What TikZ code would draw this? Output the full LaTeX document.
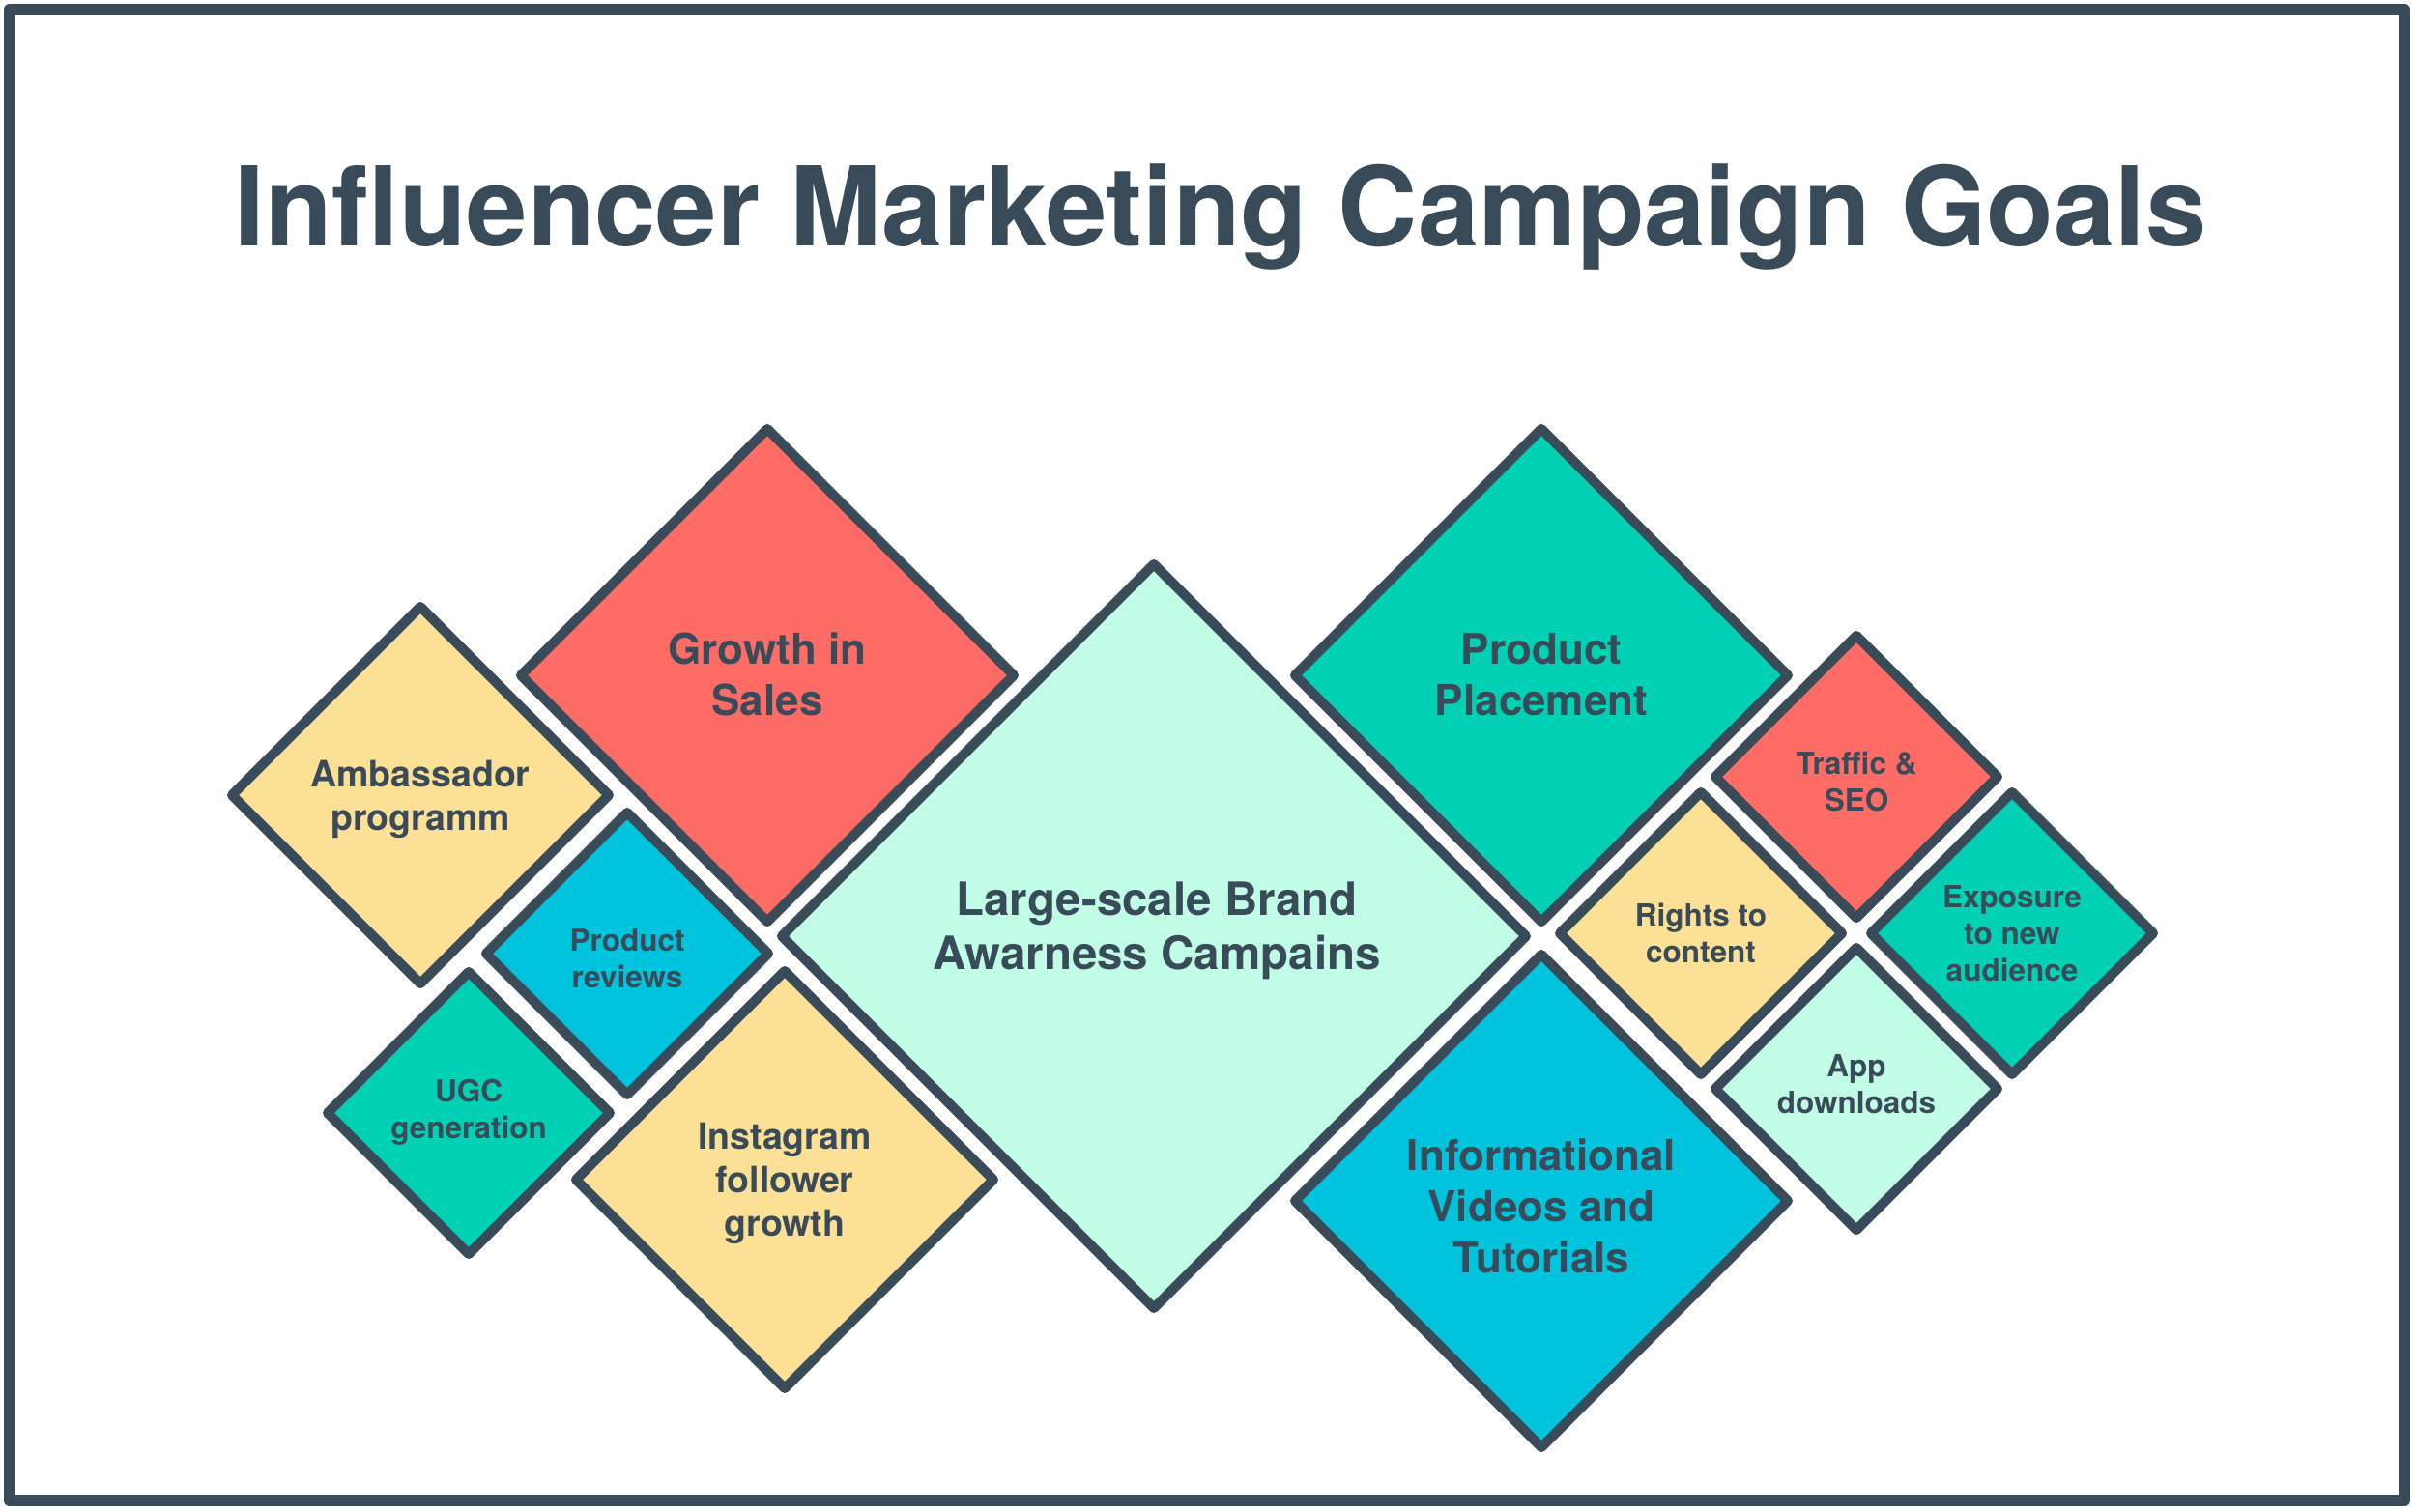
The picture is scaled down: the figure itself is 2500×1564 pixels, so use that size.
\documentclass[tikz,border=0pt]{standalone}
\usepackage{fontspec}
\setmainfont{TeX Gyre Heros}
\usetikzlibrary{shapes.geometric}
\definecolor{ink}{RGB}{57,75,89}
\definecolor{cRed}{RGB}{255,108,101}
\definecolor{cYellow}{RGB}{252,224,150}
\definecolor{cTeal}{RGB}{0,208,180}
\definecolor{cCyan}{RGB}{0,195,222}
\definecolor{cMint}{RGB}{192,252,230}
\begin{document}
\begin{tikzpicture}[x=1pt,y=-1pt,
  gem/.style={diamond, aspect=1, draw=ink, line width=10pt, line join=round,
    inner sep=0pt, outer sep=0pt, text=ink, align=center, text depth=0pt},
  lift/.style={text depth=#1},
  sink/.style={text height=#1},
  hugegem/.style={gem, minimum size=770pt, font=\fontsize{47.5}{56.5}\selectfont\bfseries},
  biggem/.style={gem, minimum size=510pt, font=\fontsize{44}{53}\selectfont\bfseries},
  midgem/.style={gem, font=\fontsize{37.5}{45}\selectfont\bfseries},
  smallgem/.style={gem, minimum size=292pt, font=\fontsize{31.5}{38}\selectfont\bfseries},
  frame/.style={draw=ink, line width=12.5pt, line join=round}
]
\useasboundingbox (0,0) rectangle (2500,1564);
\draw[frame] (10,10) rectangle (2488,1553);
\node[anchor=base, text=ink, font=\fontsize{113.8}{130}\selectfont\bfseries] (title) at (1263,254) {Influencer Marketing Campaign Goals};

\node[midgem, fill=cYellow, minimum size=390pt] (amb) at (435,823) {Ambassador\\programm};
\node[biggem, fill=cRed, lift=3pt] (growth) at (794,699) {Growth in\\Sales};
\node[smallgem, fill=cCyan, sink=70pt] (reviews) at (649,987) {Product\\reviews};
\node[smallgem, fill=cTeal, lift=9pt] (ugc) at (485,1152) {UGC\\generation};
\node[midgem, fill=cYellow, minimum size=432pt] (insta) at (812,1221) {Instagram\\follower\\growth};
\node[hugegem, fill=cMint, lift=22pt] (large) at (1194,969) {\hspace*{6pt}Large-scale Brand\\\hspace*{6pt}Awarness Campains};
\node[biggem, fill=cTeal, lift=3pt] (pp) at (1595,699) {Product\\Placement};
\node[biggem, fill=cCyan, sink=148pt] (info) at (1595,1243) {Informational\\Videos and\\Tutorials};
\node[smallgem, fill=cRed, sink=71pt] (traffic) at (1921,804) {Traffic \&\\SEO};
\node[smallgem, fill=cYellow] (rights) at (1760,966) {Rights to\\content};
\node[smallgem, fill=cTeal] (expo) at (2082,966) {Exposure\\to new\\audience};
\node[smallgem, fill=cMint, lift=9pt] (app) at (1921,1127) {App\\downloads};
\end{tikzpicture}
\end{document}
